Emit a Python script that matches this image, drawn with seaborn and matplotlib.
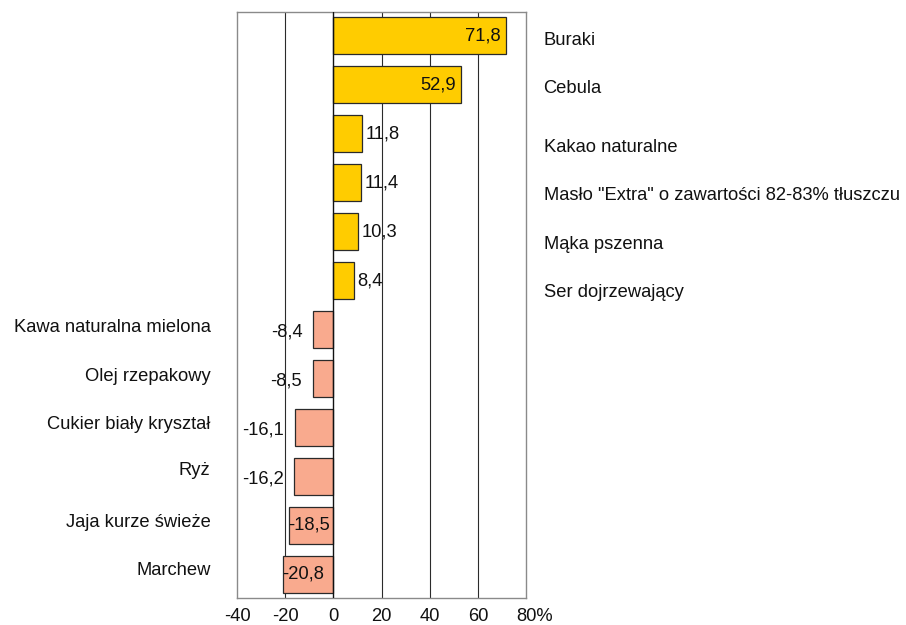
import matplotlib
matplotlib.use("Agg")
import matplotlib.pyplot as plt
import seaborn as sns
import pandas as pd

categories = ["Buraki", "Cebula", "Kakao naturalne",
              "Masło \"Extra\" o zawartości 82-83% tłuszczu", "Mąka pszenna",
              "Ser dojrzewający", "Kawa naturalna mielona", "Olej rzepakowy",
              "Cukier biały kryształ", "Ryż", "Jaja kurze świeże", "Marchew"]
values = [71.8, 52.9, 11.8, 11.4, 10.3, 8.4, -8.4, -8.5, -16.1, -16.2, -18.5, -20.8]
value_labels = ["71,8", "52,9", "11,8", "11,4", "10,3", "8,4",
                "-8,4", "-8,5", "-16,1", "-16,2", "-18,5", "-20,8"]
xticks = [-40, -20, 0, 20, 40, 60, 80]
xtick_labels = ["-40", "-20", "0", "20", "40", "60", "80%"]

sns.set_theme(style="white")
plt.rcParams["font.family"] = ["Liberation Sans", "DejaVu Sans"]

df = pd.DataFrame({"category": categories, "value": values})
df["sign"] = ["pos" if v >= 0 else "neg" for v in values]

fig = plt.figure(figsize=(9.06, 6.25), dpi=100)
ax = fig.add_axes([0.2616, 0.0432, 0.3190, 0.9376])

sns.barplot(data=df, x="value", y="category", hue="sign",
            palette={"pos": "#FFCC00", "neg": "#F9AA8E"}, saturation=1,
            dodge=False, width=0.75, edgecolor="#2a2a2a", linewidth=0.9,
            legend=False, ax=ax, zorder=3)

FS = 13.2
PAD = 7
ax.set_xlim(-40, 80)
ax.set_ylim(11.48, -0.48)
ax.set_xticks(xticks)
ax.set_xticklabels(xtick_labels[:-1] + [""], fontsize=FS, color="#111")
ax.tick_params(axis="x", length=0, pad=PAD)
ax.annotate(xtick_labels[-1], xy=(xticks[-1], 0), xycoords=("data", "axes fraction"),
            xytext=(-7.2, -PAD), textcoords="offset points",
            ha="left", va="top", fontsize=FS, color="#111", annotation_clip=False)
ax.set_yticks([])
ax.set_xlabel("")
ax.set_ylabel("")
for x in [-20, 20, 40, 60]:
    ax.axvline(x, color="#2b2b2b", linewidth=0.8, zorder=1)
ax.axvline(0, color="#111", linewidth=1.0, zorder=4)
for s in ax.spines.values():
    s.set_color("#8a8a8a")
    s.set_linewidth(1.0)

# category labels
right_off = [0.10, 0.08, 0.28, 0.27, 0.27, 0.25]
left_off = [-0.05, -0.05, -0.07, -0.12, -0.07, -0.08]
pos_i = 0
neg_i = 0
for i, (cat, v) in enumerate(zip(categories, values)):
    if v >= 0:
        ax.text(87.3, i + right_off[pos_i], cat, ha="left", va="center",
                fontsize=FS, color="#111", clip_on=False)
        pos_i += 1
    else:
        ax.text(-51, i + left_off[neg_i], cat, ha="right", va="center",
                fontsize=FS, color="#111", clip_on=False)
        neg_i += 1

# value labels
for i, (v, lab) in enumerate(zip(values, value_labels)):
    if v >= 30:
        ax.text(v - 2.2, i, lab, ha="right", va="center", fontsize=FS, color="#111", zorder=5)
    elif v >= 0:
        ax.text(v + 1.5, i, lab, ha="left", va="center", fontsize=FS, color="#111", zorder=5)
    elif v > -18:
        ax.text(v - 4.5, i + 0.05, lab, ha="right", va="center", fontsize=FS, color="#111", zorder=5)
    else:
        ax.text(v - 0.3, i, lab, ha="left", va="center", fontsize=FS, color="#111", zorder=5)

fig.savefig("out.png", dpi=100)
